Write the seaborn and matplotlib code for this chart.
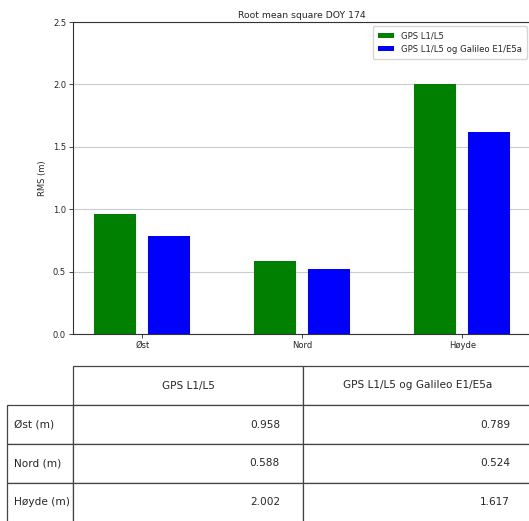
import seaborn as sns
import pandas as pd
import matplotlib.pyplot as plt

# values
retninger = ['Øst', 'Nord', 'Høyde']
serier = ['GPS L1/L5', 'GPS L1/L5 og Galileo E1/E5a']
rms_gps = [0.958, 0.588, 2.002]
rms_gps_gal = [0.789, 0.524, 1.617]
rad_etiketter = ['Øst (m)', 'Nord (m)', 'Høyde (m)']
farger = ['green', 'blue']

df = pd.DataFrame({
    'retning': retninger * 2,
    'rms': rms_gps + rms_gps_gal,
    'serie': [serier[0]] * 3 + [serier[1]] * 3,
})

sns.set_style('white')
plt.rcParams['font.family'] = ['DejaVu Sans']

fig = plt.figure(figsize=(5.29, 5.21), dpi=100)
ax = fig.add_axes([73 / 529, 187 / 521, 458 / 529, 312 / 521])

sns.barplot(data=df, x='retning', y='rms', hue='serie', palette=farger,
            saturation=1, width=0.676, gap=0.223, edgecolor='none', ax=ax)

ax.set_xlim(-0.433, 2.43)
ax.set_ylim(0, 2.5)
ax.set_yticks([0.0, 0.5, 1.0, 1.5, 2.0, 2.5])
ax.yaxis.grid(True, color='#cccccc', linewidth=0.8)
ax.set_axisbelow(True)
ax.set_xlabel('')
ax.set_ylabel('RMS (m)', fontsize=6)
ax.set_title('Root mean square DOY 174', fontsize=6.7, pad=3)
ax.tick_params(axis='both', labelsize=6, length=3, width=0.6, direction='out',
               bottom=True, left=True, pad=2)
for s in ax.spines.values():
    s.set_color('#333333')
    s.set_linewidth(0.8)

ax.legend(title=None, loc='upper right', fontsize=6.1, handlelength=1.9,
          handleheight=0.5, frameon=True, borderpad=0.6)

# table below the bars: first column holds the row labels
celler = [[lab, f'{a:.3f}', f'{b:.3f}']
          for lab, a, b in zip(rad_etiketter, rms_gps, rms_gps_gal)]
tab = ax.table(cellText=celler, colLabels=[''] + serier,
               colWidths=[66 / 526, 230 / 526, 230 / 526],
               cellLoc='right', colLoc='center',
               bbox=[-66 / 458, -188 / 312, 526 / 458, 156 / 312])
tab.auto_set_font_size(False)
tab.set_fontsize(7.6)
for (r, c), cell in tab.get_celld().items():
    cell.set_edgecolor('#444444')
    cell.set_linewidth(0.9)
    if c == 0:
        cell.get_text().set_horizontalalignment('left')
    if r == 0 and c == 0:
        cell.visible_edges = 'open'

fig.savefig('out.png', dpi=100)
